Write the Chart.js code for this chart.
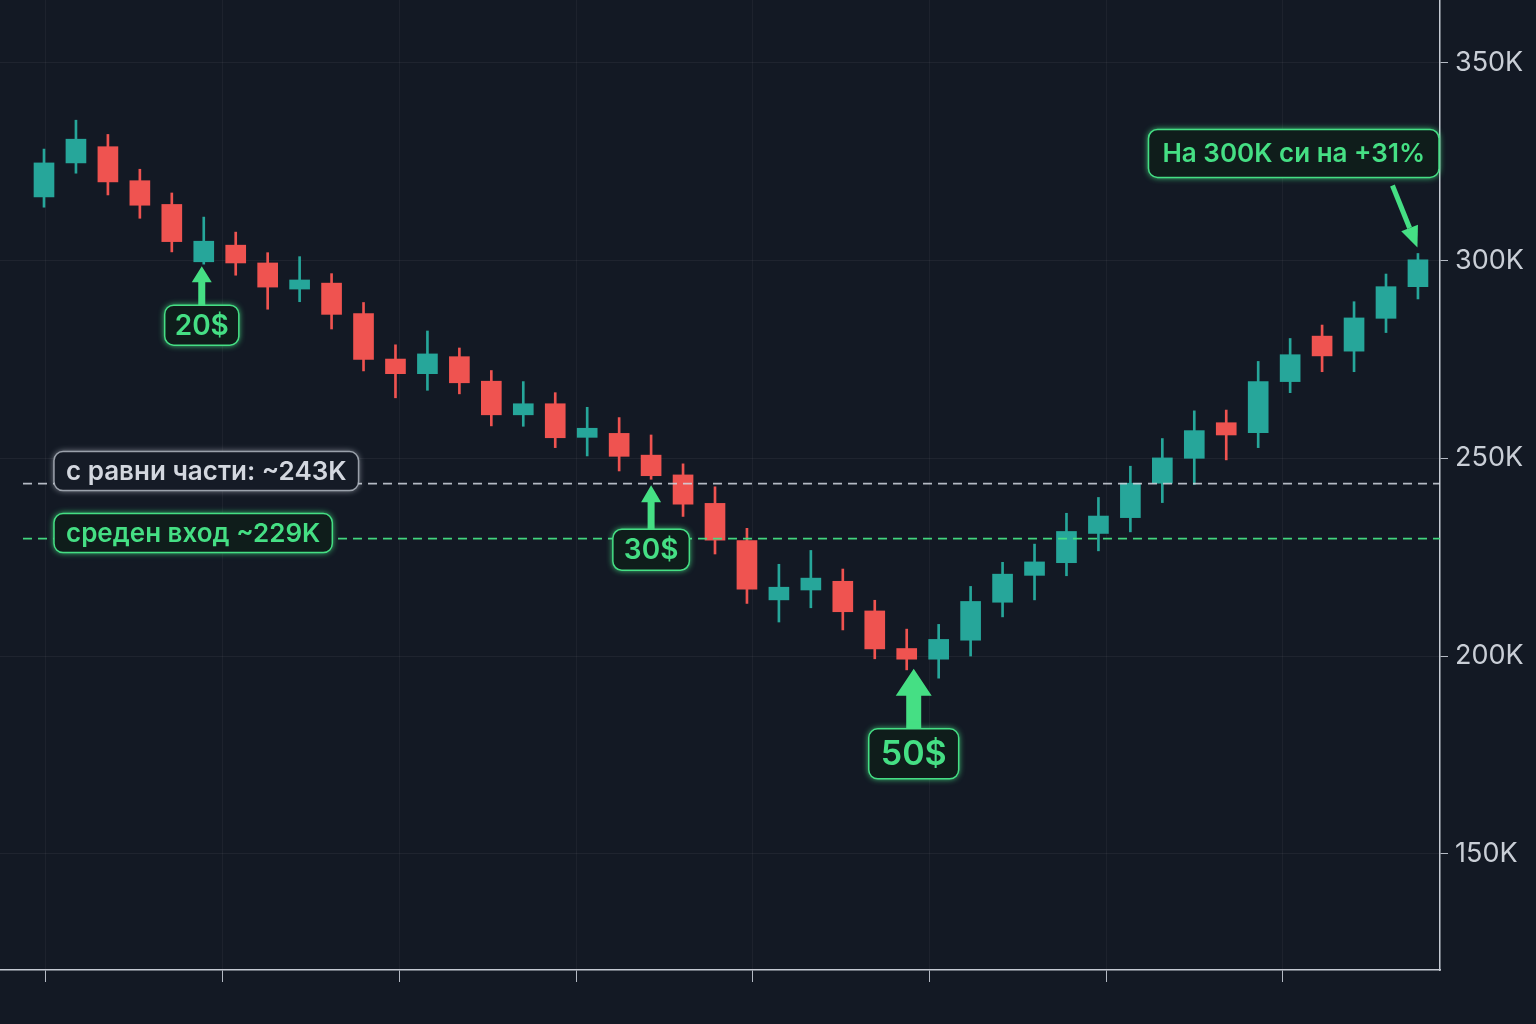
<!DOCTYPE html>
<html lang="bg">
<head>
  <meta charset="UTF-8" />
  <title>Candles</title>
  <script src="https://cdn.jsdelivr.net/npm/chart.js"></script>
  <style>
    * {
      margin: 0;
      padding: 0;
      box-sizing: border-box;
    }

    body {
      background-color: #131924;
      width: 1536px;
      height: 1024px;
      overflow: hidden;
    }

    .chart-container {
      position: relative;
      width: 1536px;
      height: 1024px;
    }
  </style>
</head>
<body>
  <div class="chart-container">
    <canvas id="candleChart"></canvas>
  </div>

  <script>
    // price in thousands
    const opens  = [316.1, 324.7, 328.8, 320.2, 314.2, 299.7, 303.9, 299.4, 292.8, 294.3,
                    286.6, 275.1, 271.4, 275.7, 269.5, 261.0, 263.8, 255.3, 256.3, 250.8,
                    245.8, 238.6, 229.2, 214.2, 216.7, 218.9, 211.4, 201.9, 199.2, 204.0,
                    213.6, 220.4, 223.6, 231.0, 235.0, 243.7, 250.0, 259.0, 256.5, 269.4,
                    280.9, 277.1, 285.4, 293.4];
    const highs  = [328.2, 335.5, 331.9, 323.1, 317.1, 311.0, 307.2, 302.0, 301.0, 296.7,
                    289.4, 278.7, 282.2, 277.9, 272.2, 269.4, 266.6, 262.9, 260.3, 255.9,
                    248.6, 242.8, 232.3, 223.2, 226.7, 222.0, 214.1, 206.8, 208.0, 217.6,
                    223.7, 228.3, 236.1, 240.1, 248.0, 255.0, 262.0, 262.2, 274.5, 280.3,
                    283.7, 289.6, 296.6, 301.8];
    const lows   = [313.5, 322.1, 316.6, 310.7, 302.2, 299.1, 296.3, 287.7, 289.6, 282.7,
                    272.1, 265.3, 267.2, 266.3, 258.2, 258.1, 252.7, 250.6, 246.8, 244.7,
                    235.3, 225.8, 213.3, 208.6, 212.2, 206.6, 199.3, 196.5, 194.4, 200.0,
                    209.9, 214.2, 220.3, 226.6, 231.4, 238.8, 243.4, 249.6, 252.7, 266.6,
                    271.9, 271.9, 281.8, 290.3];
    const closes = [324.7, 330.7, 319.9, 314.0, 304.8, 304.9, 299.4, 293.3, 295.1, 286.4,
                    275.0, 271.4, 276.4, 269.1, 261.0, 263.8, 255.2, 257.6, 250.5, 245.6,
                    238.4, 229.3, 216.9, 217.4, 219.7, 211.2, 201.8, 199.2, 204.2, 213.8,
                    220.7, 223.8, 231.5, 235.4, 243.7, 250.1, 257.0, 255.9, 269.4, 276.2,
                    275.9, 285.5, 293.4, 300.2];

    const yTicks = [150, 200, 250, 300, 350];
    const xTicks = [0.06, 5.59, 11.12, 16.65, 22.18, 27.71, 33.24, 38.77];

    const levelValues = [243.6, 229.7];
    const levelLabels = ['с равни части: ~243K', 'среден вход ~229K'];

    const buyIndex = [5, 19, 27];
    const buyLabels = ['20$', '30$', '50$'];

    const targetIndex = 43;
    const targetLabel = 'На 300K си на +31%';

    const UP = '#26a69a';
    const DOWN = '#ef5350';
    const ACCENT = '#45df84';
    const FONT = 'Inter, "Noto Sans", sans-serif';

    function roundRect(ctx, x, y, w, h, r) {
      ctx.beginPath();
      ctx.moveTo(x + r, y);
      ctx.arcTo(x + w, y, x + w, y + h, r);
      ctx.arcTo(x + w, y + h, x, y + h, r);
      ctx.arcTo(x, y + h, x, y, r);
      ctx.arcTo(x, y, x + w, y, r);
      ctx.closePath();
    }

    function drawBox(ctx, text, left, top, h, font, padX, stroke, fill, color) {
      ctx.font = font;
      const w = ctx.measureText(text).width + padX * 2;
      ctx.save();
      ctx.shadowColor = stroke;
      ctx.shadowBlur = 6;
      roundRect(ctx, left, top, w, h, 9);
      ctx.fillStyle = fill;
      ctx.fill();
      ctx.restore();
      roundRect(ctx, left, top, w, h, 9);
      ctx.lineWidth = 1.5;
      ctx.strokeStyle = stroke;
      ctx.stroke();
      ctx.fillStyle = color;
      ctx.textAlign = 'left';
      ctx.textBaseline = 'middle';
      ctx.fillText(text, left + padX, top + h / 2 + 1);
      return w;
    }

    const overlays = {
      id: 'overlays',
      beforeDraw(chart) {
        const c = chart.ctx;
        c.save();
        c.fillStyle = '#131924';
        c.fillRect(0, 0, chart.width, chart.height);
        c.restore();
      },
      afterDatasetsDraw(chart) {
        const ctx = chart.ctx;
        const xs = chart.scales.x;
        const ys = chart.scales.y;
        const area = chart.chartArea;
        ctx.save();

        // dashed levels
        const lineColors = ['rgba(210,215,225,0.85)', 'rgba(69,223,132,0.95)'];
        const boxStroke = ['rgba(190,196,206,0.75)', ACCENT];
        const boxFill = ['#151b26', '#0f1d1b'];
        const textColor = ['#d3d7df', ACCENT];
        const boxShift = [-32, -25];
        const boxH = [39, 39];
        levelValues.forEach((v, i) => {
          const py = ys.getPixelForValue(v);
          ctx.save();
          ctx.setLineDash([9, 6]);
          ctx.lineWidth = 1.6;
          ctx.strokeStyle = lineColors[i];
          ctx.beginPath();
          ctx.moveTo(23, py);
          ctx.lineTo(area.right, py);
          ctx.stroke();
          ctx.restore();
          drawBox(ctx, levelLabels[i], 54, py + boxShift[i], boxH[i],
            '600 26px ' + FONT, 12, boxStroke[i], boxFill[i], textColor[i]);
        });

        // buy arrows
        const tipGap = [2, 6, -1];
        const shiftX = [-2, 0, 7];
        const headW = [20, 20, 36];
        const headH = [16, 17, 27];
        const shaftW = [7, 7, 15];
        const arrowLen = [39, 44, 60];
        const fontPx = [28, 28, 34];
        const labelH = [40, 41, 50];
        const padX = [10, 11, 12];
        buyIndex.forEach((idx, i) => {
          const cx = xs.getPixelForValue(idx) + shiftX[i];
          const tip = ys.getPixelForValue(lows[idx]) + tipGap[i];
          const base = tip + arrowLen[i];
          ctx.fillStyle = ACCENT;
          ctx.beginPath();
          ctx.moveTo(cx, tip);
          ctx.lineTo(cx + headW[i] / 2, tip + headH[i]);
          ctx.lineTo(cx + shaftW[i] / 2, tip + headH[i]);
          ctx.lineTo(cx + shaftW[i] / 2, base);
          ctx.lineTo(cx - shaftW[i] / 2, base);
          ctx.lineTo(cx - shaftW[i] / 2, tip + headH[i]);
          ctx.lineTo(cx - headW[i] / 2, tip + headH[i]);
          ctx.closePath();
          ctx.fill();
          const font = '600 ' + fontPx[i] + 'px ' + FONT;
          ctx.font = font;
          const w = ctx.measureText(buyLabels[i]).width + padX[i] * 2;
          drawBox(ctx, buyLabels[i], cx - w / 2, base, labelH[i], font, padX[i],
            ACCENT, '#0f1d1b', ACCENT);
        });

        // target arrow + box
        const tx = xs.getPixelForValue(targetIndex) - 0.5;
        const ty = ys.getPixelForValue(highs[targetIndex]) - 6;
        const sx = tx - 25;
        const sy = ty - 62;
        const ang = Math.atan2(ty - sy, tx - sx);
        const hl = 21;
        const hw = 9;
        const bx = tx - hl * Math.cos(ang);
        const by = ty - hl * Math.sin(ang);
        ctx.strokeStyle = ACCENT;
        ctx.lineWidth = 5;
        ctx.lineCap = 'butt';
        ctx.beginPath();
        ctx.moveTo(sx, sy);
        ctx.lineTo(bx, by);
        ctx.stroke();
        ctx.fillStyle = ACCENT;
        ctx.beginPath();
        ctx.moveTo(tx, ty);
        ctx.lineTo(bx + hw * Math.sin(ang), by - hw * Math.cos(ang));
        ctx.lineTo(bx - hw * Math.sin(ang), by + hw * Math.cos(ang));
        ctx.closePath();
        ctx.fill();

        const tFont = '600 26px ' + FONT;
        ctx.font = tFont;
        const tPad = 14;
        const tw = ctx.measureText(targetLabel).width + tPad * 2;
        drawBox(ctx, targetLabel, area.right - 1 - tw, sy - 8 - 48, 48, tFont, tPad,
          ACCENT, '#0f1d1b', ACCENT);

        ctx.restore();
      }
    };

    const ctx = document.getElementById('candleChart').getContext('2d');

    const candleChart = new Chart(ctx, {
      type: 'bar',
      data: {
        datasets: [
          {
            label: 'body',
            data: opens.map((o, i) => ({ x: i, y: [o, closes[i]] })),
            backgroundColor: opens.map((o, i) => closes[i] >= o ? UP : DOWN),
            barThickness: 20,
            grouped: false,
            borderWidth: 0,
            borderSkipped: false,
            order: 0
          },
          {
            label: 'wick',
            data: lows.map((l, i) => ({ x: i, y: [l, highs[i]] })),
            backgroundColor: opens.map((o, i) => closes[i] >= o ? UP : DOWN),
            barThickness: 2,
            grouped: false,
            borderWidth: 0,
            borderSkipped: false,
            order: 1
          }
        ]
      },
      options: {
        responsive: true,
        maintainAspectRatio: false,
        animation: false,
        layout: { padding: 0 },
        plugins: {
          legend: { display: false },
          tooltip: { enabled: false }
        },
        scales: {
          x: {
            type: 'linear',
            min: -1.377,
            max: 43.69,
            offset: false,
            afterBuildTicks: (scale) => {
              scale.ticks = xTicks.map(v => ({ value: v }));
            },
            afterFit: (scale) => {
              scale.height = 54;
              scale.paddingLeft = 0;
              scale.paddingRight = 0;
            },
            ticks: { display: false },
            grid: {
              color: 'rgba(255,255,255,0.045)',
              tickColor: '#b4bac4',
              tickLength: 12,
              offset: false
            },
            border: { color: '#c4c9d2', width: 1.5 }
          },
          y: {
            position: 'right',
            min: 120.6,
            max: 365.9,
            afterBuildTicks: (scale) => {
              scale.ticks = yTicks.map(v => ({ value: v }));
            },
            afterFit: (scale) => {
              scale.width = 96;
              scale.paddingTop = 0;
              scale.paddingBottom = 0;
            },
            ticks: {
              color: '#c9ced6',
              padding: 7,
              font: { family: FONT, size: 27 },
              callback: (v) => v + 'K'
            },
            grid: {
              color: 'rgba(255,255,255,0.05)',
              tickColor: '#b4bac4',
              tickLength: 8
            },
            border: { color: '#c4c9d2', width: 1.5 }
          }
        }
      },
      plugins: [overlays]
    });
  </script>
</body>
</html>
